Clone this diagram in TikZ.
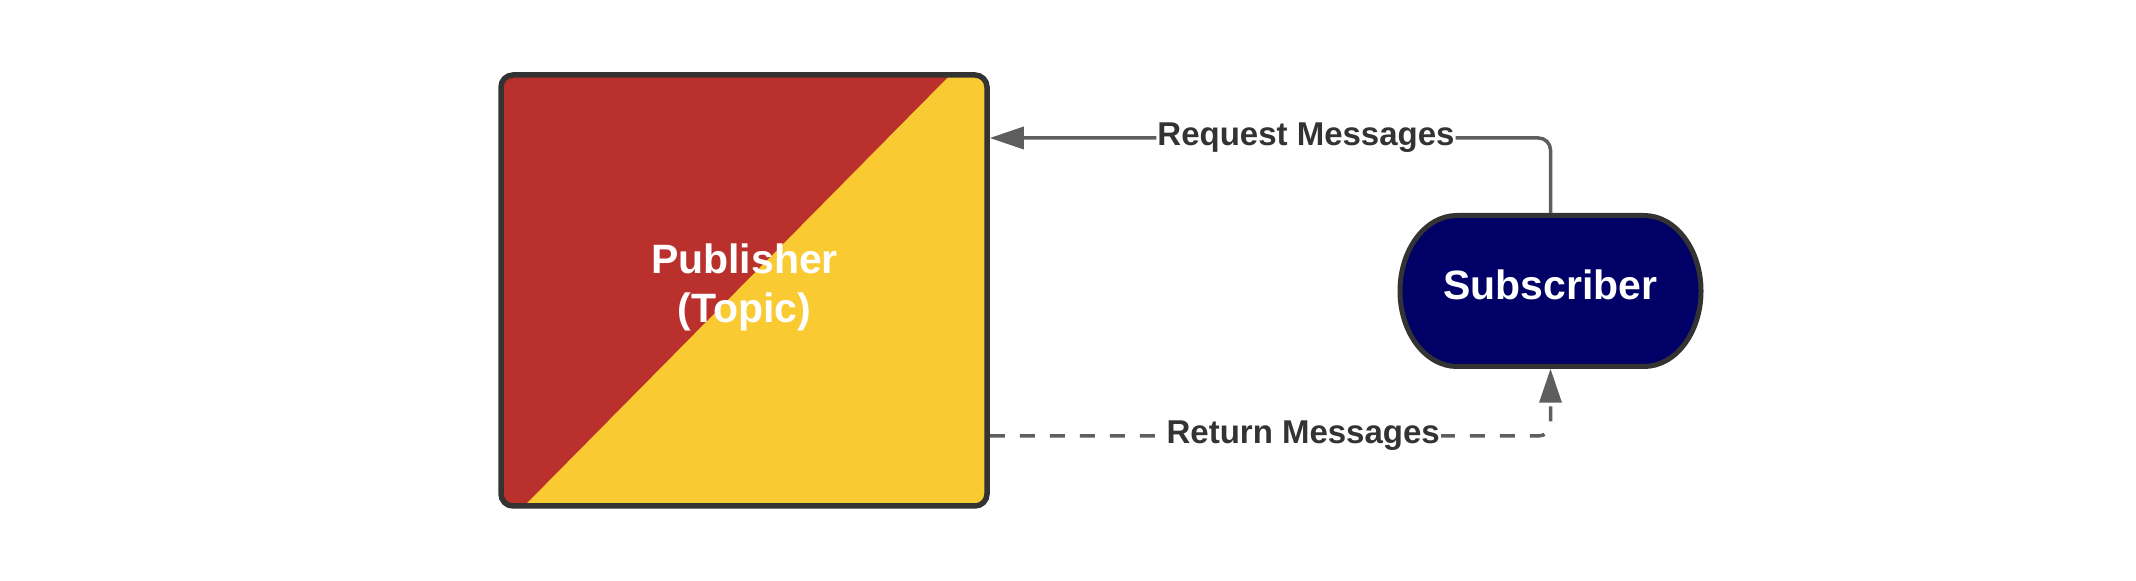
\documentclass[tikz,border=0pt]{standalone}
\usepackage{fontspec}
\setmainfont{Liberation Sans}
\usetikzlibrary{arrows.meta}
\definecolor{pubred}{HTML}{BA302C}
\definecolor{pubyellow}{HTML}{F9CA31}
\definecolor{subnavy}{HTML}{000066}
\definecolor{bordergray}{HTML}{333333}
\definecolor{conngray}{HTML}{5E5E5E}
\definecolor{labelgray}{HTML}{333333}
\begin{document}
\begin{tikzpicture}[x=0.5pt,y=-0.5pt,
  pubbox/.style={draw=bordergray, line width=2.75pt, rounded corners=6pt,
    minimum width=243pt, minimum height=215.5pt, inner sep=0pt},
  subbox/.style={minimum width=150.5pt, minimum height=75.25pt, inner sep=0pt, outer sep=1.25pt},
  nodetext/.style={text=white, font=\fontsize{20.5}{24.5}\selectfont\bfseries, align=center, inner sep=0pt},
  conn/.style={draw=conngray, line width=1.75pt, rounded corners=6pt},
  tip/.style={-{Triangle[length=17pt,width=11pt]}},
  dashedconn/.style={dash pattern=on 7.5pt off 7.5pt},
  lbl/.style={fill=white, text=labelgray, font=\fontsize{16.5}{20}\selectfont\bfseries, inner xsep=0.5pt, inner ysep=2pt}
]
\useasboundingbox (0,0) rectangle (2136,581);

% Publisher box fill (diagonal split)
\begin{scope}
  \clip[rounded corners=6pt] (501,75) rectangle (987,506);
  \fill[pubyellow] (501,75) rectangle (987,506);
  \fill[pubred] (501,75) -- (950,75) -- (524,506) -- (501,506) -- cycle;
\end{scope}
\node[pubbox] (pub) at (744,290.5) {};
\node[nodetext] (pubtext) at (744.5,287) {Publisher\\(Topic)};

% Subscriber terminator shape
\filldraw[fill=subnavy, draw=bordergray, line width=2.5pt]
  (1457,215.5) -- (1644,215.5)
  arc[start angle=90, end angle=-90, x radius=28.5pt, y radius=37.75pt]
  -- (1457,366.5)
  arc[start angle=270, end angle=90, x radius=28.5pt, y radius=37.75pt]
  -- cycle;
\node[subbox] (sub) at (1550.5,291) {};
\node[nodetext] (subtext) at (1550.5,284.5) {Subscriber};

% Connectors
\coordinate (reqturn) at (1550.5,138);
\coordinate (retturn) at (1550.5,436);
\draw[conn, tip] (sub.north) -- (reqturn)
  -- node[lbl, pos=0.436] (reqlbl) {Request Messages} (reqturn -| pub.east);
\draw[conn, dashedconn, tip] (pub.east |- retturn)
  -- node[lbl, pos=0.559] (retlbl) {Return Messages} (retturn) -- (sub.south);
\end{tikzpicture}
\end{document}
